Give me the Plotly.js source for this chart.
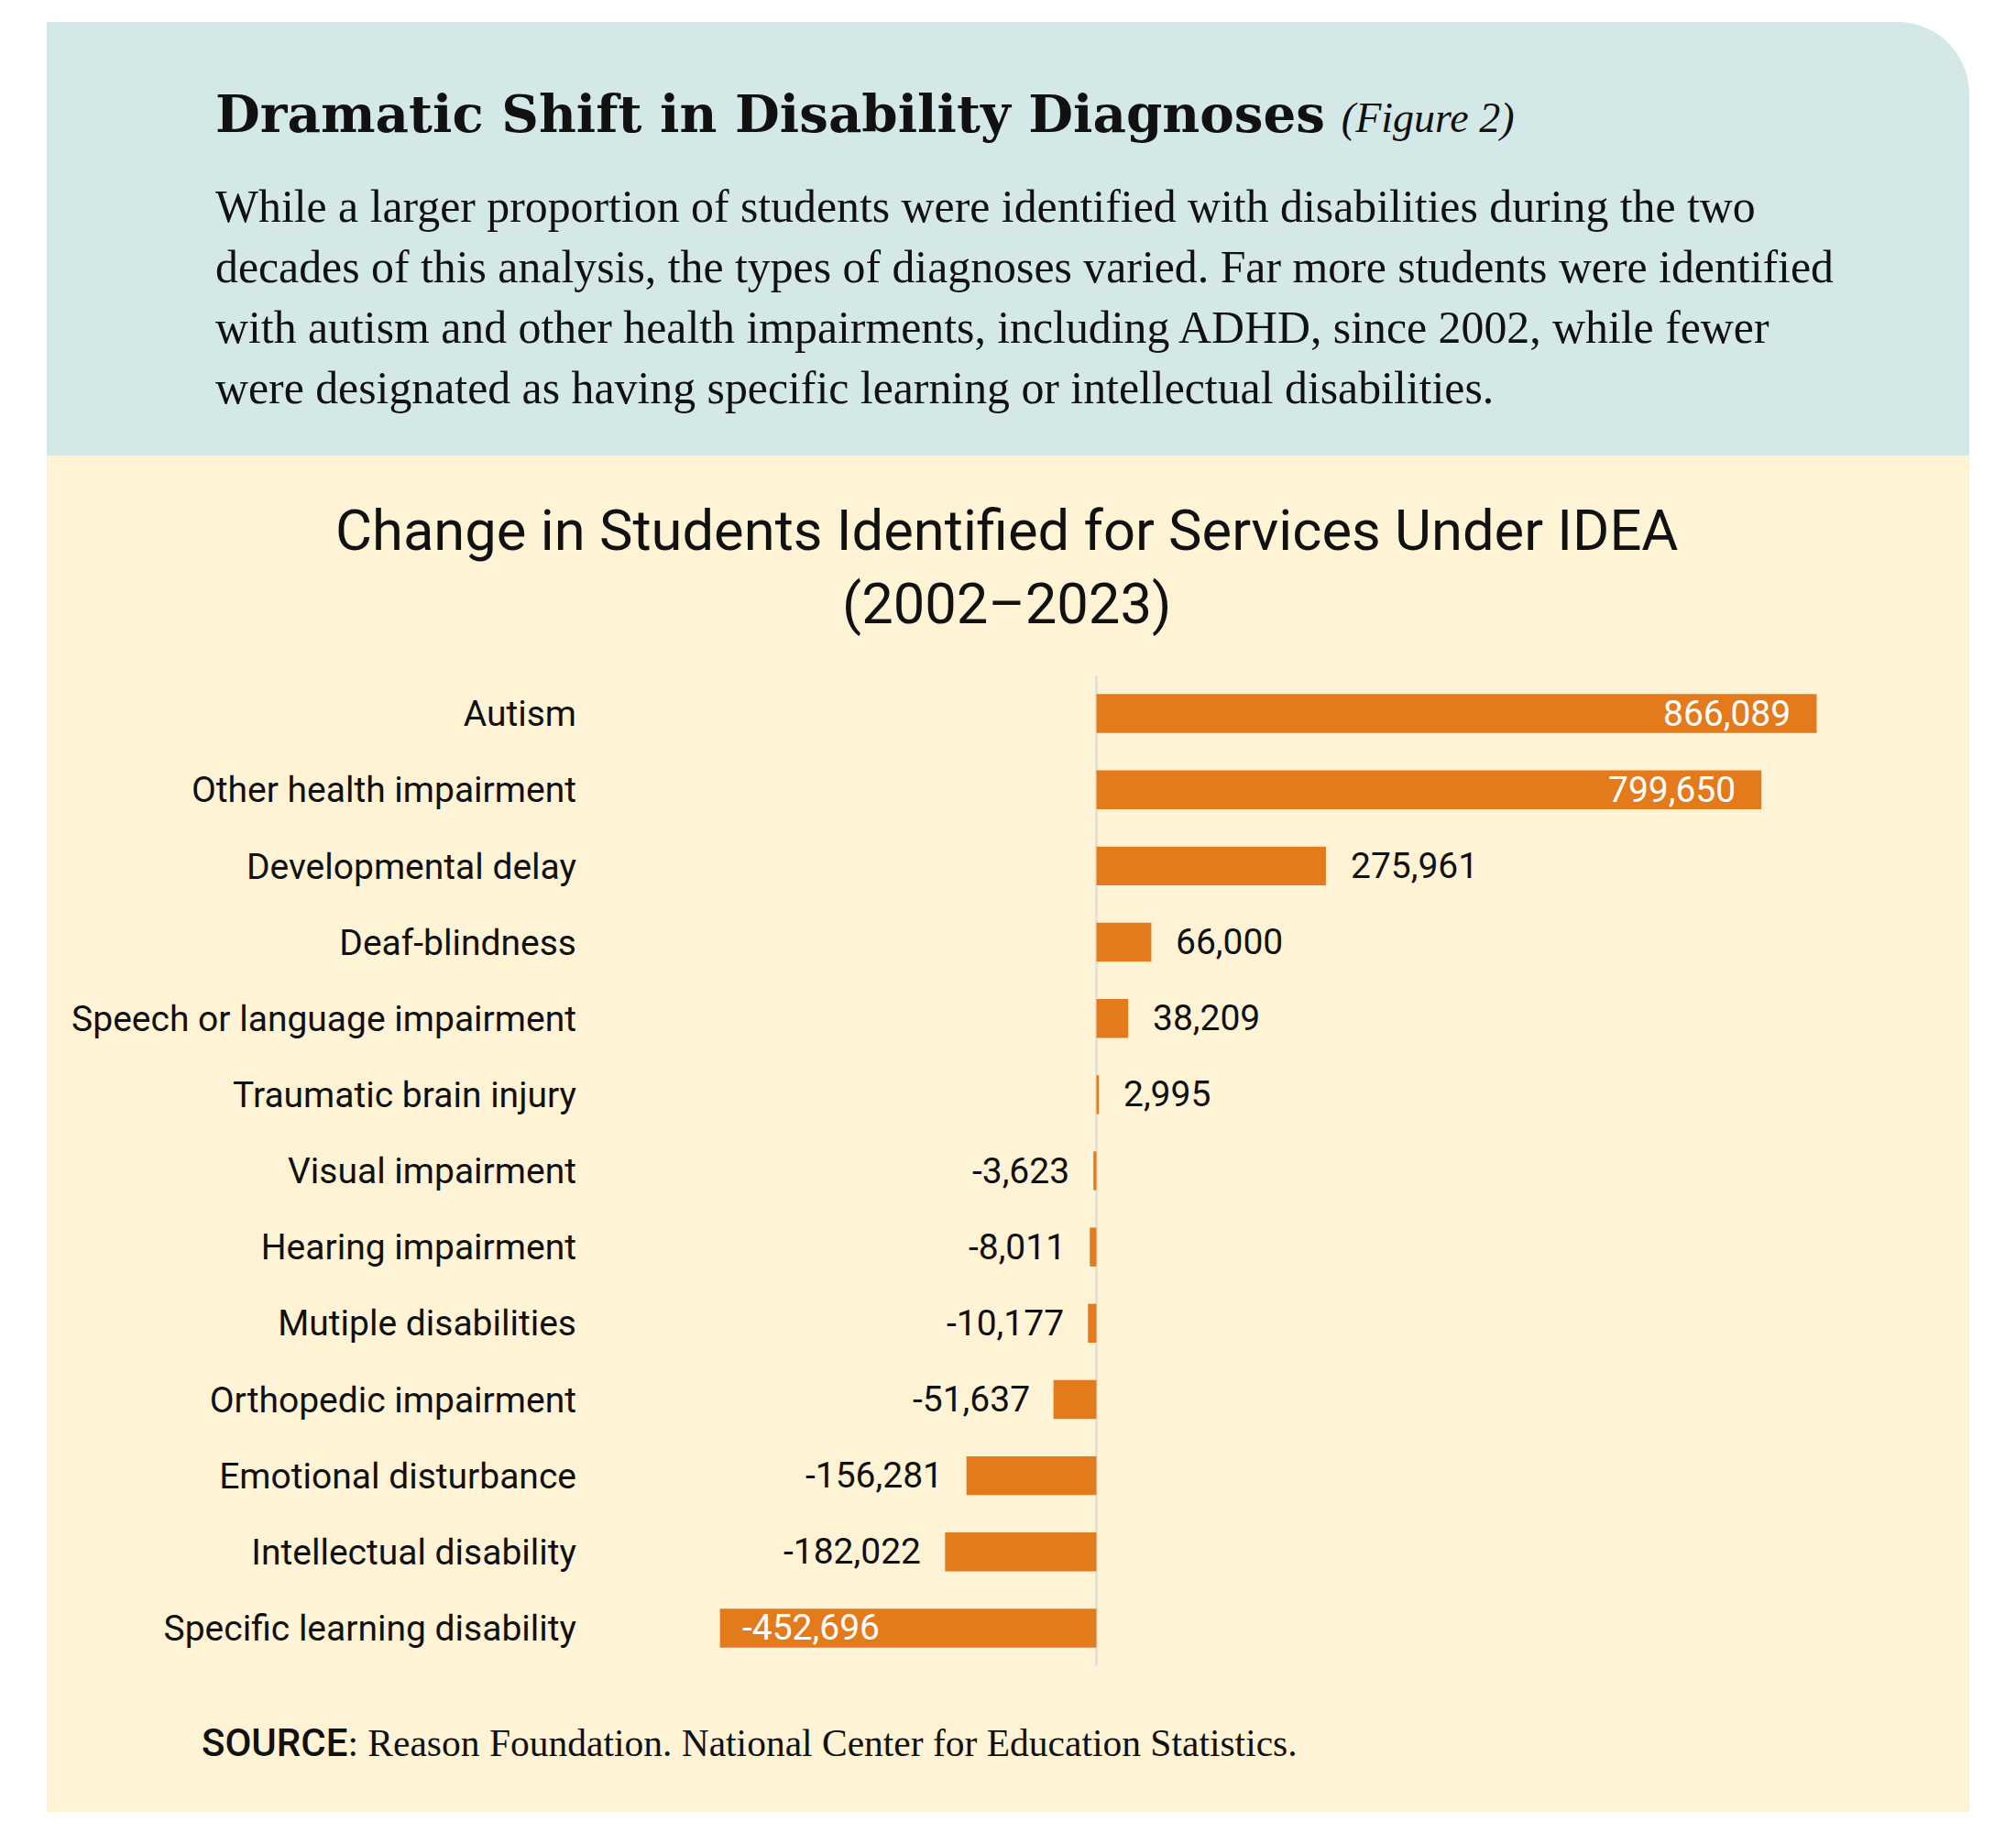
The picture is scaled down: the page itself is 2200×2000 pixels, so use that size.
<!DOCTYPE html>
<html>
<head>
<meta charset="utf-8">
<script src="https://cdn.plot.ly/plotly-3.0.1.min.js"></script>
<style>
  html, body { margin: 0; padding: 0; background: #ffffff; }
  #chart { width: 2200px; height: 2000px; }
</style>
</head>
<body>
<div id="chart"></div>
<script>
// Change in students identified for services under IDEA, 2002–2023
const categories = [
  "Autism",
  "Other health impairment",
  "Developmental delay",
  "Deaf-blindness",
  "Speech or language impairment",
  "Traumatic brain injury",
  "Visual impairment",
  "Hearing impairment",
  "Mutiple disabilities",
  "Orthopedic impairment",
  "Emotional disturbance",
  "Intellectual disability",
  "Specific learning disability"
];
const changes = [866089, 799650, 275961, 66000, 38209, 2995, -3623, -8011, -10177, -51637, -156281, -182022, -452696];

const headline = "Dramatic Shift in Disability Diagnoses";
const figureTag = "(Figure 2)";
const introLines = [
  "While a larger proportion of students were identified with disabilities during the two",
  "decades of this analysis, the types of diagnoses varied. Far more students were identified",
  "with autism and other health impairments, including ADHD, since 2002, while fewer",
  "were designated as having specific learning or intellectual disabilities."
];
const chartTitleLines = ["Change in Students Identified for Services Under IDEA", "(2002–2023)"];
const sourceLabel = "SOURCE";
const sourceText = "Reason Foundation. National Center for Education Statistics.";

// page geometry helpers (pixels -> paper fractions)
const W = 2200, H = 2000;
const px = x => x / W;
const py = y => 1 - y / H;

const ORANGE = "#E37B1D";
const TEAL = "#D4E9E7";
const CREAM = "#FEF3D5";
const SANS = "Roboto, 'Open Sans', sans-serif";
const SERIF = "'Liberation Serif', 'DejaVu Serif', serif";

// x scale: zero sits at x≈1196.5 px, 9.075e-4 px per student
const k = 9.075e-4;
const plotL = 700, plotR = 2100, zeroPx = 1196.5;
const xRange = [-(zeroPx - plotL) / k, (plotR - zeroPx) / k];

const fmt = v => v.toLocaleString("en-US");

const bars = {
  type: "bar",
  orientation: "h",
  y: categories,
  x: changes,
  marker: { color: ORANGE, line: { width: 0 } },
  hoverinfo: "skip",
  showlegend: false
};

// value labels: long bars carry them inside in white, the rest sit just outside
const valueNotes = changes.map((v, i) => {
  const inside = Math.abs(v) > 400000;
  let xanchor, xshift;
  if (v >= 0) {
    xanchor = inside ? "right" : "left";
    xshift = inside ? -26 : 25;
  } else {
    xanchor = inside ? "left" : "right";
    xshift = inside ? 22 : -24;
  }
  return {
    xref: "x", yref: "y",
    x: v, y: categories[i],
    text: fmt(v),
    showarrow: false,
    xanchor: xanchor, yanchor: "middle",
    xshift: xshift,
    font: { family: SANS, size: 39, color: inside ? "#ffffff" : "#111111" }
  };
});

const textNotes = [];
textNotes.push({
  xref: "paper", yref: "paper",
  x: px(233), y: py(124),
  xanchor: "left", yanchor: "middle",
  showarrow: false,
  text: "<b>" + headline + "</b> <span style=\"font-family:'Liberation Serif';font-style:italic;font-weight:normal;font-size:46px\">" + figureTag + "</span>",
  font: { family: "'DejaVu Serif', serif", size: 56.3, color: "#111111" }
});
introLines.forEach((line, i) => {
  textNotes.push({
    xref: "paper", yref: "paper",
    x: px(233), y: py(225 + 66.3 * i),
    xanchor: "left", yanchor: "middle",
    showarrow: false,
    text: line,
    font: { family: SERIF, size: 49.8, color: "#111111" }
  });
});
textNotes.push({
  xref: "paper", yref: "paper",
  x: px(1099), y: py(619),
  xanchor: "center", yanchor: "middle",
  showarrow: false,
  align: "center",
  text: chartTitleLines.join("<br>"),
  font: { family: SANS, size: 61.5, color: "#111111" }
});
textNotes.push({
  xref: "paper", yref: "paper",
  x: px(218), y: py(1901),
  xanchor: "left", yanchor: "middle",
  showarrow: false,
  text: "<span style=\"font-family:Roboto;font-weight:500;font-size:42px\">" + sourceLabel + "</span>: " + sourceText,
  font: { family: SERIF, size: 41.5, color: "#111111" }
});

// background panels: teal header with a rounded top-right corner, cream chart area
const r = 78;
const tl = [51, 24], br = [2149, 497];
const headerPath = [
  "M", px(tl[0]), py(br[1]),
  "L", px(tl[0]), py(tl[1]),
  "L", px(br[0] - r), py(tl[1]),
  "C", px(br[0] - r * 0.45), py(tl[1]), px(br[0]), py(tl[1] + r * 0.45), px(br[0]), py(tl[1] + r),
  "L", px(br[0]), py(br[1]),
  "Z"
].join(" ");

const shapes = [
  {
    type: "path", xref: "paper", yref: "paper", layer: "below",
    path: headerPath, fillcolor: TEAL, line: { width: 0 }
  },
  {
    type: "rect", xref: "paper", yref: "paper", layer: "below",
    x0: px(51), x1: px(2149), y0: py(497), y1: py(1977),
    fillcolor: CREAM, line: { width: 0 }
  }
];

const layout = {
  width: W, height: H,
  margin: { l: 0, r: 0, t: 0, b: 0, pad: 0 },
  paper_bgcolor: "#ffffff",
  plot_bgcolor: "rgba(0,0,0,0)",
  bargap: 0.49,
  xaxis: {
    domain: [px(plotL), px(plotR)],
    range: xRange,
    showgrid: false,
    showticklabels: false,
    ticks: "",
    zeroline: true,
    zerolinecolor: "#E2E1DC",
    zerolinewidth: 3,
    showline: false,
    fixedrange: true,
    automargin: false
  },
  yaxis: {
    domain: [py(1818), py(737)],
    type: "category",
    categoryorder: "array",
    categoryarray: categories,
    autorange: "reversed",
    showgrid: false,
    zeroline: false,
    showline: false,
    ticks: "",
    ticklabelstandoff: 70,
    tickfont: { family: SANS, size: 39, color: "#111111" },
    fixedrange: true,
    automargin: false
  },
  shapes: shapes,
  annotations: textNotes.concat(valueNotes),
  font: { family: SANS }
};

Plotly.newPlot("chart", [bars], layout, { displayModeBar: false, staticPlot: true });
</script>
</body>
</html>
